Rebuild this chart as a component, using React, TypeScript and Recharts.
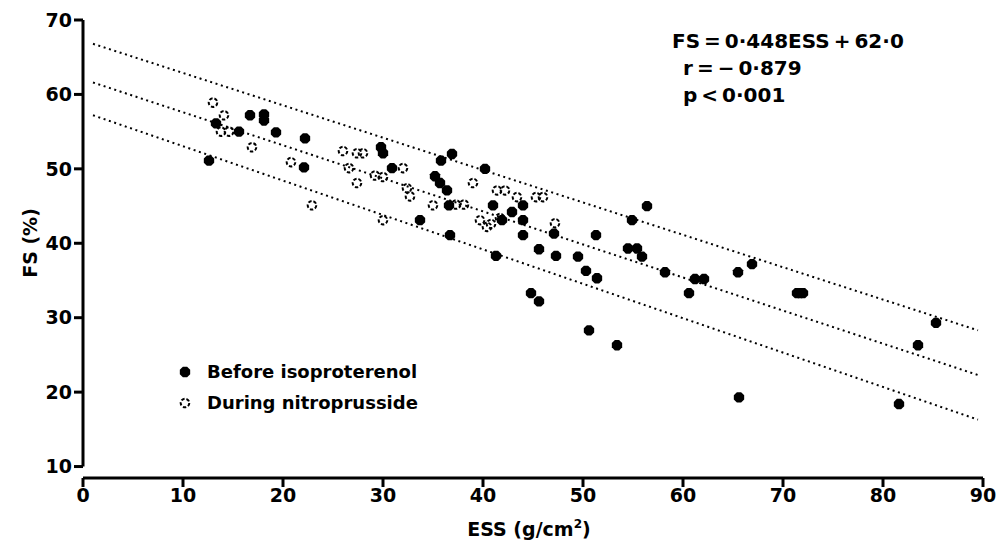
import { Legend, ReferenceLine, Scatter, ScatterChart, XAxis, YAxis } from 'recharts';

const FONT = '"DejaVu Sans", sans-serif';

const xTicks = [0, 10, 20, 30, 40, 50, 60, 70, 80, 90];
const yTicks = [10, 20, 30, 40, 50, 60, 70];

// Before isoproterenol: [ESS, FS]
const beforeIso: [number, number][] = [
  [12.6, 51.1], [13.3, 56.1], [15.6, 55.0], [16.7, 57.2], [18.1, 57.3], [18.1, 56.5],
  [19.3, 54.9], [22.2, 54.1], [22.1, 50.2], [29.8, 52.9], [30.0, 52.1], [30.9, 50.1],
  [33.7, 43.1], [35.2, 49.0], [35.7, 48.1], [35.8, 51.1], [36.9, 52.0], [36.4, 47.1],
  [36.6, 45.1], [36.7, 41.1], [40.2, 50.0], [41.0, 45.1], [41.9, 43.1], [42.9, 44.2],
  [41.3, 38.3], [44.0, 45.1], [44.0, 43.1], [44.0, 41.1], [44.8, 33.3], [45.6, 32.2],
  [45.6, 39.2], [47.1, 41.3], [47.3, 38.3], [49.5, 38.2], [50.3, 36.3], [50.6, 28.3],
  [51.3, 41.1], [51.4, 35.3], [53.4, 26.3], [54.5, 39.3], [55.4, 39.3], [55.9, 38.2],
  [54.9, 43.1], [56.4, 45.0], [58.2, 36.1], [60.6, 33.3], [61.2, 35.2], [62.1, 35.2],
  [65.5, 36.1], [65.6, 19.3], [66.9, 37.2], [71.4, 33.3], [71.7, 33.3], [72.0, 33.3],
  [81.6, 18.4], [83.5, 26.3], [85.3, 29.3],
];

// During nitroprusside: [ESS, FS]
const duringNitro: [number, number][] = [
  [13.0, 58.9], [14.1, 57.2], [13.8, 55.0], [14.6, 55.0], [16.9, 52.9], [20.8, 50.9],
  [22.9, 45.1], [26.0, 52.4], [26.6, 50.1], [27.4, 52.1], [28.0, 52.1], [27.4, 48.1],
  [29.2, 49.1], [30.0, 48.9], [30.0, 43.1], [32.0, 50.1], [32.4, 47.4], [32.7, 46.3],
  [35.0, 45.1], [37.3, 45.2], [38.1, 45.2], [39.0, 48.1], [39.7, 43.1], [40.4, 42.2],
  [40.8, 42.6], [41.7, 43.4], [41.4, 47.1], [42.2, 47.1], [43.4, 46.2], [45.3, 46.2],
  [46.0, 46.2], [47.2, 42.7],
];

// regression line and its limits, end points
const lineX = [1, 89.5];
const upperLimit = [66.8, 28.3];
const fitLine = [61.6, 22.3];
const lowerLimit = [57.2, 16.3];

const toPoints = (pts: [number, number][]) => pts.map(([x, y]) => ({ x, y }));
const toLine = (ys: number[]) => lineX.map((x, i) => ({ x, y: ys[i] }));

const FilledDot = ({ cx, cy }: { cx?: number; cy?: number }) => {
  if (cx == null || cy == null) return null;
  const r = 5.6;
  const pts = Array.from({ length: 8 }, (_, i) => {
    const a = (Math.PI / 4) * i + Math.PI / 8;
    return `${cx + r * Math.cos(a)},${cy + r * Math.sin(a)}`;
  }).join(' ');
  return <polygon points={pts} fill="#000" />;
};

const OpenDot = ({ cx, cy }: { cx?: number; cy?: number }) => {
  if (cx == null || cy == null) return null;
  return (
    <circle cx={cx} cy={cy} r={4.3} fill="none" stroke="#000" strokeWidth={2} strokeDasharray="3.4 1.9" />
  );
};

const NoDot = () => <g />;

const YTitle = ({ viewBox }: { viewBox?: { x: number; y: number; height: number } }) => {
  if (!viewBox) return null;
  const x = 30;
  const y = 243;
  return (
    <text x={x} y={y} transform={`rotate(-90 ${x} ${y})`} textAnchor="middle" dominantBaseline="central"
      fontFamily={FONT} fontWeight="bold" fontSize={19} fill="#000">
      FS (%)
    </text>
  );
};

const XTitle = ({ viewBox }: { viewBox?: { x: number; y: number; width: number } }) => {
  if (!viewBox) return null;
  return (
    <text x={viewBox.x + viewBox.width / 2 - 4} y={536} textAnchor="middle" fontFamily={FONT}
      fontWeight="bold" fontSize={19} fill="#000">
      ESS (g/cm<tspan dy={-8} fontSize={12}>2</tspan><tspan dy={8}>)</tspan>
    </text>
  );
};

const LegendBox = () => (
  <div style={{ fontFamily: FONT, fontWeight: 'bold', fontSize: 18, color: '#000', lineHeight: '31px' }}>
    <div style={{ display: 'flex', alignItems: 'center' }}>
      <svg width={30} height={14}><FilledDot cx={8} cy={7} /></svg>
      <span>Before isoproterenol</span>
    </div>
    <div style={{ display: 'flex', alignItems: 'center' }}>
      <svg width={30} height={14}><OpenDot cx={8} cy={7} /></svg>
      <span>During nitroprusside</span>
    </div>
  </div>
);

const tickStyle = { fontFamily: FONT, fontWeight: 'bold' as const, fontSize: 19, fill: '#000' };

export default function App() {
  return (
    <div style={{ position: 'absolute', left: 0, top: 0, width: 1000, height: 543, background: '#fff' }}>
      <ScatterChart width={1000} height={543} margin={{ top: 20, right: 17, bottom: 25, left: 23 }}>
        <XAxis
          type="number"
          dataKey="x"
          domain={[0, 90]}
          ticks={xTicks}
          interval={0}
          allowDataOverflow
          height={40}
          tickSize={9}
          axisLine={{ stroke: '#000', strokeWidth: 3 }}
          tickLine={{ stroke: '#000', strokeWidth: 3 }}
          tick={tickStyle}
          label={<XTitle />}
        />
        <YAxis
          type="number"
          dataKey="y"
          domain={[8.46, 70]}
          ticks={yTicks}
          interval={0}
          allowDataOverflow
          width={60}
          tickSize={9}
          axisLine={false}
          tickLine={{ stroke: '#000', strokeWidth: 3 }}
          tick={tickStyle}
          label={<YTitle />}
        />
        <ReferenceLine
          segment={[{ x: 0, y: 10 }, { x: 0, y: 70 }]}
          stroke="#000"
          strokeWidth={3}
          ifOverflow="visible"
        />
        {[upperLimit, fitLine, lowerLimit].map((ys, i) => (
          <Scatter
            key={i}
            data={toLine(ys)}
            line={{ stroke: '#000', strokeWidth: 2, strokeDasharray: '2 3.6' }}
            lineType="joint"
            shape={NoDot}
            legendType="none"
            isAnimationActive={false}
          />
        ))}
        <Scatter name="During nitroprusside" data={toPoints(duringNitro)} shape={OpenDot} isAnimationActive={false} />
        <Scatter name="Before isoproterenol" data={toPoints(beforeIso)} shape={FilledDot} isAnimationActive={false} />
        <Legend
          layout="vertical"
          align="center"
          verticalAlign="middle"
          content={<LegendBox />}
          wrapperStyle={{ position: 'absolute', left: 177, top: 356, width: 280 }}
        />
      </ScatterChart>
      <div
        style={{
          position: 'absolute',
          left: 672,
          top: 28,
          fontFamily: FONT,
          fontWeight: 'bold',
          fontSize: 20,
          lineHeight: '27px',
          color: '#000',
          whiteSpace: 'pre',
        }}
      >
        <div>FS{'\u2009'}={'\u2009'}0·448ESS{'\u2009'}+{'\u2009'}62·0</div>
        <div style={{ paddingLeft: 11 }}>r{'\u2009'}={'\u2009'}−{'\u2009'}0·879</div>
        <div style={{ paddingLeft: 11 }}>p{'\u2009'}&lt;{'\u2009'}0·001</div>
      </div>
    </div>
  );
}
